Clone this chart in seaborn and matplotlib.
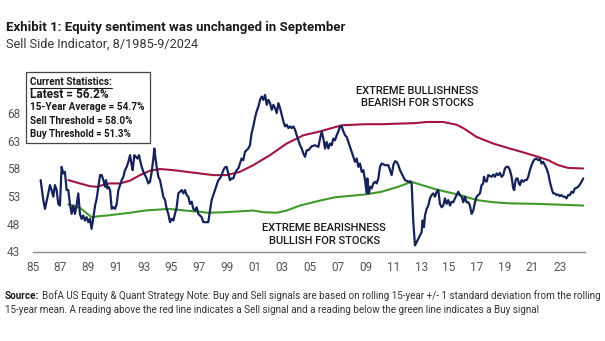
import matplotlib
matplotlib.use("Agg")
import matplotlib.pyplot as plt
import seaborn as sns
import pandas as pd
from matplotlib.patches import Rectangle
from matplotlib.lines import Line2D

# ---------------- data ----------------
ssi_year = [1985.58, 1985.77, 1985.89, 1986.13, 1986.25, 1986.37, 1986.49, 1986.61, 1986.73, 1986.85,
            1986.97, 1987.09, 1987.21, 1987.33, 1987.45, 1987.57, 1987.69, 1987.81, 1987.93, 1988.05,
            1988.17, 1988.29, 1988.41, 1988.53, 1988.65, 1988.77, 1988.89, 1989.01, 1989.13, 1989.25,
            1989.38, 1989.50, 1989.62, 1989.74, 1989.86, 1989.98, 1990.10, 1990.22, 1990.29, 1990.38,
            1990.46, 1990.58, 1990.70, 1990.82, 1990.94, 1991.06, 1991.18, 1991.30, 1991.42, 1991.54,
            1991.66, 1991.78, 1991.90, 1992.02, 1992.14, 1992.21, 1992.33, 1992.45, 1992.55, 1992.67,
            1992.74, 1992.86, 1992.98, 1993.10, 1993.22, 1993.34, 1993.46, 1993.58, 1993.70, 1993.77,
            1993.84, 1993.94, 1994.06, 1994.18, 1994.30, 1994.42, 1994.54, 1994.66, 1994.78, 1994.90,
            1995.02, 1995.14, 1995.26, 1995.38, 1995.50, 1995.62, 1995.74, 1995.86, 1995.98, 1996.10,
            1996.22, 1996.34, 1996.46, 1996.58, 1996.70, 1996.82, 1996.94, 1997.06, 1997.18, 1997.30,
            1997.42, 1997.54, 1997.66, 1997.78, 1997.90, 1998.02, 1998.14, 1998.26, 1998.38, 1998.50,
            1998.62, 1998.74, 1998.86, 1998.98, 1999.10, 1999.22, 1999.34, 1999.46, 1999.58, 1999.70,
            1999.82, 1999.94, 2000.06, 2000.18, 2000.30, 2000.42, 2000.54, 2000.66, 2000.78, 2000.90,
            2001.02, 2001.14, 2001.27, 2001.39, 2001.51, 2001.63, 2001.75, 2001.87, 2001.99, 2002.11,
            2002.23, 2002.35, 2002.47, 2002.59, 2002.71, 2002.83, 2002.95, 2003.07, 2003.19, 2003.31,
            2003.43, 2003.55, 2003.67, 2003.79, 2003.91, 2004.03, 2004.15, 2004.27, 2004.39, 2004.51,
            2004.63, 2004.75, 2004.87, 2005.10, 2005.35, 2005.59, 2005.71, 2005.83, 2005.95, 2006.07,
            2006.19, 2006.31, 2006.43, 2006.55, 2006.67, 2006.79, 2006.91, 2007.03, 2007.15, 2007.27,
            2007.39, 2007.51, 2007.63, 2007.75, 2007.87, 2007.99, 2008.11, 2008.23, 2008.35, 2008.47,
            2008.59, 2008.71, 2008.83, 2008.95, 2009.07, 2009.12, 2009.19, 2009.24, 2009.31, 2009.43,
            2009.55, 2009.67, 2009.79, 2009.91, 2010.03, 2010.15, 2010.39, 2010.63, 2010.75, 2010.87,
            2010.99, 2011.11, 2011.23, 2011.35, 2011.47, 2011.59, 2011.71, 2011.83, 2012.07, 2012.19,
            2012.31, 2012.43, 2012.55, 2012.67, 2012.79, 2012.91, 2013.03, 2013.10, 2013.20, 2013.27,
            2013.39, 2013.51, 2013.63, 2013.75, 2013.87, 2013.99, 2014.11, 2014.23, 2014.35, 2014.47,
            2014.59, 2014.71, 2014.83, 2014.95, 2015.07, 2015.19, 2015.31, 2015.43, 2015.55, 2015.67,
            2015.79, 2015.91, 2016.03, 2016.15, 2016.27, 2016.39, 2016.51, 2016.63, 2016.75, 2016.87,
            2016.99, 2017.11, 2017.23, 2017.35, 2017.47, 2017.52, 2017.59, 2017.71, 2017.83, 2018.07,
            2018.19, 2018.31, 2018.43, 2018.55, 2018.67, 2018.79, 2018.91, 2019.03, 2019.15, 2019.27,
            2019.39, 2019.51, 2019.63, 2019.70, 2019.80, 2019.87, 2019.94, 2020.04, 2020.11, 2020.23,
            2020.35, 2020.47, 2020.59, 2020.71, 2020.83, 2020.95, 2021.07, 2021.19, 2021.31, 2021.43,
            2021.55, 2021.67, 2021.79, 2021.91, 2022.03, 2022.15, 2022.27, 2022.39, 2022.51, 2022.63,
            2022.75, 2022.87, 2022.99, 2023.11, 2023.23, 2023.35, 2023.47, 2023.59, 2023.71, 2023.83,
            2023.95, 2024.07, 2024.19, 2024.31, 2024.43, 2024.55, 2024.67]
ssi_value = [55.9, 52.3, 50.7, 53.5, 55.0, 54.1, 52.9, 55.0, 54.1, 51.6,
             51.3, 58.3, 57.1, 57.4, 54.1, 54.1, 51.6, 49.8, 51.3, 49.8,
             51.3, 53.5, 49.8, 48.9, 49.5, 48.6, 49.2, 48.3, 48.9, 47.1,
             49.2, 51.3, 52.6, 54.7, 56.8, 56.8, 55.9, 54.7, 55.9, 54.4,
             54.7, 54.1, 50.7, 51.0, 50.7, 51.6, 54.1, 55.0, 55.9, 56.5,
             57.7, 58.3, 59.2, 60.4, 58.6, 57.7, 60.4, 60.1, 59.8, 60.4,
             59.5, 58.3, 57.4, 56.8, 56.2, 55.3, 55.6, 57.4, 59.8, 61.6,
             60.1, 58.3, 56.5, 55.9, 54.4, 52.9, 52.3, 50.7, 49.8, 48.3,
             48.9, 48.6, 49.8, 51.0, 53.5, 53.8, 54.1, 53.5, 54.1, 53.2,
             52.9, 51.6, 52.0, 50.7, 50.4, 51.0, 49.8, 49.5, 49.2, 48.3,
             48.3, 48.3, 48.3, 50.4, 52.3, 53.2, 54.1, 55.0, 55.9, 56.2,
             56.8, 57.7, 58.2, 58.3, 57.1, 55.9, 56.2, 56.2, 57.1, 57.7,
             58.0, 58.9, 59.8, 59.5, 61.0, 61.3, 61.6, 62.2, 64.4, 65.6,
             67.1, 68.3, 69.2, 70.4, 71.0, 70.4, 71.3, 69.5, 70.4, 69.8,
             68.6, 69.5, 68.9, 68.0, 69.8, 68.9, 67.7, 66.5, 65.6, 65.9,
             65.3, 65.6, 65.3, 65.6, 65.0, 64.0, 63.1, 62.2, 61.6, 60.7,
             60.1, 61.3, 61.3, 62.0, 62.2, 61.9, 63.4, 64.7, 63.4, 61.6,
             62.8, 61.6, 62.5, 62.2, 63.4, 63.1, 64.0, 64.7, 65.6, 65.6,
             64.7, 64.0, 63.7, 62.8, 61.9, 61.0, 60.1, 59.2, 59.8, 58.3,
             58.9, 57.4, 57.7, 55.9, 53.5, 56.2, 54.4, 53.5, 54.7, 54.4,
             55.3, 55.6, 55.3, 56.2, 58.3, 58.9, 58.6, 58.6, 57.7, 56.8,
             58.6, 59.3, 59.2, 58.6, 57.7, 57.1, 56.5, 55.9, 55.6, 55.7,
             55.3, 48.3, 44.1, 44.7, 45.3, 45.9, 46.5, 48.6, 47.4, 49.5,
             50.7, 51.3, 52.6, 53.2, 53.5, 52.9, 53.8, 54.1, 51.6, 51.0,
             51.3, 52.6, 51.6, 52.3, 51.3, 52.0, 51.9, 52.6, 53.2, 53.8,
             53.2, 52.9, 51.9, 52.9, 51.9, 51.9, 51.3, 49.8, 50.4, 51.9,
             52.9, 53.2, 53.5, 55.0, 55.3, 56.5, 55.9, 55.6, 56.8, 56.5,
             56.9, 56.5, 57.1, 56.8, 57.2, 56.5, 56.8, 58.0, 58.3, 58.3,
             57.7, 56.5, 54.4, 54.1, 55.9, 56.2, 56.2, 55.3, 55.0, 55.9,
             55.6, 55.9, 55.9, 56.5, 57.7, 58.6, 59.3, 59.7, 59.8, 59.5,
             59.7, 58.9, 59.2, 58.6, 58.0, 57.1, 55.6, 54.4, 53.5, 53.5,
             53.2, 53.3, 53.0, 53.2, 52.9, 52.9, 52.6, 53.2, 53.2, 53.8,
             53.6, 54.4, 54.5, 54.7, 55.1, 55.6, 56.2]

sell_year = [1987.57, 1988.41, 1989.13, 1989.62, 1990.34, 1990.58, 1991.30, 1992.02, 1992.74, 1993.46,
             1994.18, 1995.14, 1996.10, 1997.06, 1998.02, 1998.98, 1999.94, 2000.90, 2002.10, 2003.30,
             2004.51, 2005.71, 2006.55, 2007.27, 2008.95, 2010.15, 2012.55, 2013.39, 2014.59, 2015.55,
             2016.03, 2016.99, 2018.19, 2019.39, 2020.23, 2021.43, 2022.15, 2022.87, 2023.59, 2024.67]
sell_value = [55.9, 55.3, 54.8, 54.7, 55.2, 55.3, 55.3, 55.8, 56.8, 57.6,
              57.9, 57.7, 57.4, 57.1, 56.8, 56.8, 57.4, 58.6, 60.4, 62.5,
              64.0, 64.7, 65.3, 65.8, 66.0, 66.0, 66.2, 66.4, 66.4, 65.9,
              65.3, 63.7, 62.5, 61.6, 61.0, 60.1, 59.5, 58.6, 58.1, 58.0]

buy_year = [1987.57, 1988.41, 1989.25, 1989.86, 1990.34, 1992.02, 1993.10, 1994.78, 1995.98, 1996.94,
            1997.66, 1998.87, 2000.90, 2001.62, 2002.58, 2003.30, 2004.26, 2005.71, 2006.79, 2008.95,
            2010.15, 2011.35, 2012.31, 2012.91, 2014.11, 2015.79, 2016.99, 2018.19, 2019.39, 2021.43,
            2024.67]
buy_value = [51.5, 50.9, 49.2, 49.4, 49.5, 50.0, 50.4, 50.7, 50.4, 50.2,
             50.0, 50.1, 50.4, 50.1, 50.0, 50.4, 51.3, 52.2, 52.8, 53.3,
             53.8, 54.7, 55.6, 55.1, 54.2, 53.2, 52.3, 51.9, 51.7, 51.6,
             51.3]

y_ticks = [43, 48, 53, 58, 63, 68]
x_tick_years = list(range(1985, 2024, 2))
x_tick_labels = [f"{y % 100:02d}" for y in x_tick_years]

title = "Exhibit 1: Equity sentiment was unchanged in September"
subtitle = "Sell Side Indicator, 8/1985-9/2024"
stats_lines = ["Current Statistics:", "Latest = 56.2%", "15-Year Average = 54.7%",
               "Sell Threshold = 58.0%", "Buy Threshold = 51.3%"]
source_label = "Source:"
source_1 = ("BofA US Equity & Quant Strategy Note: Buy and Sell signals are based on rolling 15-year +/- 1 "
            "standard deviation from the rolling")
source_2 = "15-year mean. A reading above the red line indicates a Sell signal and a reading below the green line indicates a Buy signal"

# ---------------- styling ----------------
sns.set_theme(style="white")
FAM = ["Roboto", "DejaVu Sans"]
plt.rcParams["font.family"] = FAM

NAVY = "#16235a"
RED = "#a3153f"
GREEN = "#3f9a2c"
GREY = "#555555"

W, H = 605, 341
fig = plt.figure(figsize=(W / 100, H / 100), dpi=100)
fig.patch.set_facecolor("white")


def fx(px):
    return px / W


def fy(py):
    return 1 - py / H


ax = fig.add_axes([fx(32.6), fy(251.5), fx(585) - fx(32.6), fy(91) - fy(251.5)])

df_ssi = pd.DataFrame({"year": ssi_year, "value": ssi_value})
df_sell = pd.DataFrame({"year": sell_year, "value": sell_value})
df_buy = pd.DataFrame({"year": buy_year, "value": buy_value})

sns.lineplot(data=df_sell, x="year", y="value", ax=ax, color=RED, lw=1.5, sort=False)
sns.lineplot(data=df_buy, x="year", y="value", ax=ax, color=GREEN, lw=1.5, sort=False)
sns.lineplot(data=df_ssi, x="year", y="value", ax=ax, color=NAVY, lw=1.6, sort=False)

ax.set_xlim(1985.0, 2024.8)
ax.set_ylim(43, 72)
ax.set_xlabel("")
ax.set_ylabel("")
ax.set_yticks(y_ticks)
ax.set_yticklabels([str(v) for v in y_ticks])
ax.set_xticks(x_tick_years)
ax.set_xticklabels(x_tick_labels)
ax.tick_params(axis="both", length=0, labelsize=8.5, labelcolor=GREY)
ax.tick_params(axis="y", pad=9)
ax.tick_params(axis="x", pad=7)
for s in ["top", "right", "left"]:
    ax.spines[s].set_visible(False)
ax.spines["bottom"].set_color("#8a8a8a")
ax.spines["bottom"].set_linewidth(1.0)
ax.grid(False)
ax.set_facecolor("white")

# annotations
ax.text(2012.7, 70.9, "EXTREME BULLISHNESS\nBEARISH FOR STOCKS", ha="center", va="center",
        fontsize=8.0, fontweight="medium", color="#1a1a1a", linespacing=1.3, clip_on=False)
ax.text(2006.0, 46.1, "EXTREME BEARISHNESS\nBULLISH FOR STOCKS", ha="center", va="center",
        fontsize=8.0, fontweight="medium", color="#1a1a1a", linespacing=1.3, clip_on=False)

renderer = fig.canvas.get_renderer()


def fit_text(t, right_px):
    """shrink/grow a left-aligned figure text so that it ends at right_px"""
    for _ in range(4):
        bb = t.get_window_extent(renderer)
        width = bb.x1 - bb.x0
        target = right_px - bb.x0
        if width <= 0:
            return
        t.set_fontsize(t.get_fontsize() * target / width)


# titles
t_title = fig.text(fx(6), fy(27.5), title, fontsize=10.5, fontweight="bold", color="#1a1a1a",
                   va="center", ha="left")
fit_text(t_title, 349)
t_sub = fig.text(fx(6), fy(44), subtitle, fontsize=9.5, color="#333333", va="center", ha="left")
fit_text(t_sub, 197)

# stats box
fig.patches.append(Rectangle((fx(26), fy(143)), fx(150) - fx(26), fy(72) - fy(143),
                             transform=fig.transFigure, facecolor="white", edgecolor="#444444",
                             lw=0.9, zorder=5))
stat_y = [81.7, 94.0, 107.0, 120.5, 134.0]
stat_right = [112, 109, 143, 132, 132]
for line, py, rp in zip(stats_lines, stat_y, stat_right):
    t = fig.text(fx(30), fy(py), line, fontsize=8.2, fontweight="bold", color="#1a1a1a",
                 va="center", ha="left", zorder=6)
    fit_text(t, rp)
fig.lines.append(Line2D([fx(30), fx(112)], [fy(88), fy(88)], transform=fig.transFigure,
                        color="#1a1a1a", lw=0.8, zorder=6))

# source: bold label followed by the note, same size, whole line spanning 5..601 px
GAP = 3
t_src = fig.text(fx(5), fy(296), source_label, fontsize=7.6, fontweight="bold", color="#1a1a1a",
                 va="center", ha="left")
t_s1 = fig.text(fx(40), fy(296), source_1, fontsize=7.6, color="#333333", va="center", ha="left")
for _ in range(4):
    w_lab = t_src.get_window_extent(renderer).width
    w_txt = t_s1.get_window_extent(renderer).width
    scale = (601 - 5 - GAP) / (w_lab + w_txt)
    fs = t_src.get_fontsize() * scale
    t_src.set_fontsize(fs)
    t_s1.set_fontsize(fs)
w_lab = t_src.get_window_extent(renderer).width
t_s1.set_x(fx(5 + w_lab + GAP))
t_s2 = fig.text(fx(5), fy(310), source_2, fontsize=t_s1.get_fontsize(), color="#333333",
                va="center", ha="left")

fig.savefig("out.png", dpi=100, facecolor="white")
